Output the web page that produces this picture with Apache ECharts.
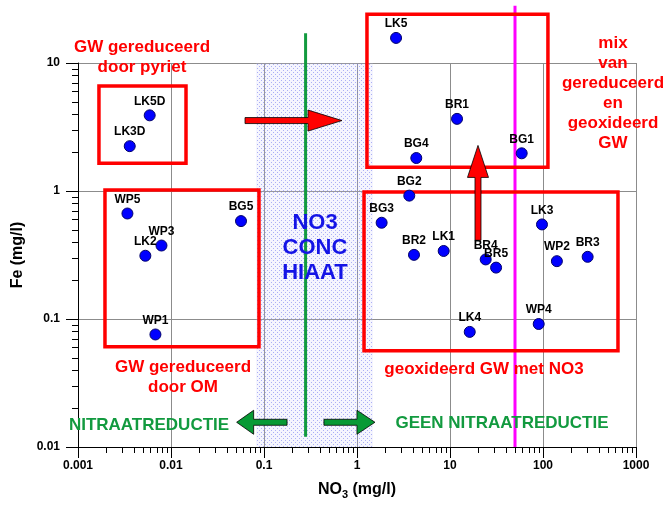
<!DOCTYPE html>
<html>
<head>
<meta charset="utf-8">
<script src="https://cdn.jsdelivr.net/npm/echarts@6/dist/echarts.min.js"></script>
<style>
  html, body { margin: 0; padding: 0; background: #ffffff; }
  #chart { width: 669px; height: 505px; background: #ffffff; }
</style>
</head>
<body>
<div id="chart"></div>
<script>
// Sample points: nitrate (x) against iron (y), both in mg/l
const sampleNames = ['LK5D', 'LK3D', 'LK5', 'BR1', 'BG4', 'BG1', 'BG2', 'WP5', 'WP3', 'LK2', 'WP1',
  'BG5', 'BG3', 'BR2', 'LK1', 'BR4', 'BR5', 'LK3', 'WP2', 'BR3', 'LK4', 'WP4'];
const no3Values = [0.0059, 0.0036, 2.63, 11.9, 4.34, 59, 3.65, 0.0034, 0.0079, 0.0053, 0.0068,
  0.0566, 1.84, 4.1, 8.55, 24.2, 31.3, 97.5, 141, 302, 16.3, 89.9];
const feValues = [3.9, 2.24, 15.7, 3.66, 1.81, 1.97, 0.92, 0.667, 0.375, 0.312, 0.0757,
  0.582, 0.565, 0.317, 0.34, 0.292, 0.252, 0.548, 0.283, 0.306, 0.0793, 0.0914];

// Axis tick labels
const xTickLabels = ['0.001', '0.01', '0.1', '1', '10', '100', '1000'];
const yTickLabels = ['0.01', '0.1', '1', '10'];

// Reference lines and the concentration gap band (mg/l)
const nitrateLimit = 50;
const reductionBoundary = 0.28;
const gapBand = [0.082, 1.49];

// Grouping boxes: [no3 min, fe min, no3 max, fe max]
const groupBoxes = [
  [0.00168, 1.65, 0.0145, 6.6],
  [0.00195, 0.0607, 0.0883, 1.02],
  [1.28, 1.53, 113, 24],
  [1.19, 0.0565, 640, 0.98]
];

const FONT = '"Liberation Sans", Arial, Helvetica, sans-serif';
const RED = '#ff0000';
const GREEN = '#129a3f';

const chart = echarts.init(document.getElementById('chart'));

// Polygon for an arrow from p0 (tail) to p1 (tip), pixel sizes for shaft and head
function arrowPoints(p0, p1, shaftW, headL, headW) {
  const dx = p1[0] - p0[0], dy = p1[1] - p0[1];
  const len = Math.sqrt(dx * dx + dy * dy);
  const ux = dx / len, uy = dy / len;
  const nx = -uy, ny = ux;
  const bx = p1[0] - ux * headL, by = p1[1] - uy * headL;
  const s = shaftW / 2, h = headW / 2;
  return [
    [p0[0] + nx * s, p0[1] + ny * s],
    [bx + nx * s, by + ny * s],
    [bx + nx * h, by + ny * h],
    p1,
    [bx - nx * h, by - ny * h],
    [bx - nx * s, by - ny * s],
    [p0[0] - nx * s, p0[1] - ny * s]
  ];
}

// 1 marks a decade (long tick), 2..9 the minor ticks inside a decade
const tickMult = [1, 2, 3, 4, 5, 6, 7, 8, 9];

function logLabel(labels, minExp) {
  return function (v) {
    const e = Math.round(Math.log10(v));
    return labels[e - minExp] !== undefined ? labels[e - minExp] : '';
  };
}

const option = {
  animation: false,
  grid: { left: 78, right: 33, top: 63, bottom: 55 },
  xAxis: {
    type: 'log', min: 0.001, max: 1000,
    name: '{a|NO}{s|3}{a| (mg/l)}',
    nameLocation: 'middle', nameGap: 33,
    nameTextStyle: {
      rich: {
        a: { fontFamily: FONT, fontWeight: 'bold', fontSize: 16, color: '#000', lineHeight: 20, verticalAlign: 'middle' },
        s: { fontFamily: FONT, fontWeight: 'bold', fontSize: 11, color: '#000', lineHeight: 20, verticalAlign: 'bottom' }
      }
    },
    axisLine: { show: true, lineStyle: { color: '#000', width: 1 } },
    axisTick: { show: false },
    axisLabel: { formatter: logLabel(xTickLabels, -3), fontFamily: FONT, fontWeight: 'bold', fontSize: 12, color: '#000', margin: 13 },
    splitLine: { show: true, lineStyle: { color: '#8c8c8c', width: 1 } }
  },
  yAxis: {
    type: 'log', min: 0.01, max: 10,
    name: 'Fe (mg/l)',
    nameLocation: 'middle', nameGap: 48, nameRotate: 90,
    nameTextStyle: { fontFamily: FONT, fontWeight: 'bold', fontSize: 16, color: '#000' },
    axisLine: { show: true, lineStyle: { color: '#000', width: 1 } },
    axisTick: { show: false },
    axisLabel: { formatter: logLabel(yTickLabels, -2), fontFamily: FONT, fontWeight: 'bold', fontSize: 12, color: '#000', margin: 18 },
    splitLine: { show: true, lineStyle: { color: '#8c8c8c', width: 1 } }
  },
  series: [
    {
      // concentration gap band: light tint plus a dot stipple, drawn as one path
      type: 'custom', z: 1, silent: true, clip: false,
      data: [0],
      renderItem: function (params, api) {
        const a = api.coord([gapBand[0], 10]);
        const b = api.coord([gapBand[1], 0.01]);
        const x0 = Math.round(a[0]), x1 = Math.round(b[0]);
        const y0 = Math.round(a[1]), y1 = Math.round(b[1]);
        let d = '';
        let row = 0;
        for (let y = y0 + 1; y < y1; y += 2, row++) {
          for (let x = x0 + 1 + (row % 2) * 2; x < x1; x += 4) {
            d += 'M' + x + ' ' + y + 'h1v1h-1z';
          }
        }
        return {
          type: 'group',
          children: [
            { type: 'rect', shape: { x: x0, y: y0, width: x1 - x0, height: y1 - y0 }, style: { fill: 'rgba(200,200,250,0.18)' } },
            { type: 'path', shape: { pathData: d }, style: { fill: 'rgba(110,116,236,0.55)' } }
          ]
        };
      }
    },
    {
      // axis ticks, decades long and 2..9 short, on their own layer
      type: 'custom', clip: false, z: 20, zlevel: 1, silent: true,
      data: [0],
      renderItem: function (params, api) {
        const children = [];
        for (let e = -3; e <= 3; e++) {
          tickMult.forEach(function (m) {
            if (e === 3 && m > 1) return;
            const p = api.coord([m * Math.pow(10, e), 0.01]);
            const len = m === 1 ? 11 : 6;
            const x = Math.round(p[0]) + 0.5;
            children.push({ type: 'line', shape: { x1: x, y1: p[1], x2: x, y2: p[1] + len }, style: { stroke: '#000', lineWidth: 1 } });
          });
        }
        for (let e = -2; e <= 1; e++) {
          tickMult.forEach(function (m) {
            if (e === 1 && m > 1) return;
            const p = api.coord([0.001, m * Math.pow(10, e)]);
            const len = m === 1 ? 12 : 6;
            const y = Math.round(p[1]) + 0.5;
            children.push({ type: 'line', shape: { x1: p[0] - len, y1: y, x2: p[0], y2: y }, style: { stroke: '#000', lineWidth: 1 } });
          });
        }
        return { type: 'group', children: children };
      }
    },
    {
      // reference lines, boxes and arrows
      type: 'custom', silent: true, clip: false, z: 3,
      data: [0],
      renderItem: function (params, api) {
        const children = [];
        const g0 = api.coord([reductionBoundary, 17.1]);
        const g1 = api.coord([reductionBoundary, 0.012]);
        children.push({ type: 'line', shape: { x1: g0[0], y1: g0[1], x2: g1[0], y2: g1[1] }, style: { stroke: '#129a3f', lineWidth: 3 } });
        const m0 = api.coord([nitrateLimit, 28]);
        const m1 = api.coord([nitrateLimit, 0.01]);
        children.push({ type: 'line', shape: { x1: m0[0], y1: m0[1], x2: m1[0], y2: m1[1] }, style: { stroke: '#ff00ff', lineWidth: 3 } });
        groupBoxes.forEach(function (bx) {
          const a = api.coord([bx[0], bx[3]]);
          const b = api.coord([bx[2], bx[1]]);
          children.push({ type: 'rect', shape: { x: a[0], y: a[1], width: b[0] - a[0], height: b[1] - a[1] }, style: { fill: null, stroke: RED, lineWidth: 3.5, lineJoin: 'miter' } });
        });
        // red arrows
        children.push({ type: 'polygon', shape: { points: arrowPoints(api.coord([0.0625, 3.55]), api.coord([0.69, 3.55]), 6, 34, 21) }, style: { fill: RED, stroke: '#000', lineWidth: 0.8 } });
        children.push({ type: 'polygon', shape: { points: arrowPoints(api.coord([20, 0.412]), api.coord([20, 2.27]), 6, 32, 21) }, style: { fill: RED, stroke: '#000', lineWidth: 0.8 } });
        // green arrows
        children.push({ type: 'polygon', shape: { points: arrowPoints(api.coord([0.177, 0.0156]), api.coord([0.0508, 0.0156]), 6, 17, 24) }, style: { fill: '#079a35', stroke: '#000', lineWidth: 0.8 } });
        children.push({ type: 'polygon', shape: { points: arrowPoints(api.coord([0.441, 0.0156]), api.coord([1.56, 0.0156]), 6, 18, 24) }, style: { fill: '#079a35', stroke: '#000', lineWidth: 0.8 } });
        return { type: 'group', children: children };
      }
    },
    {
      type: 'scatter', z: 5, clip: false,
      symbol: 'circle', symbolSize: 11,
      itemStyle: { color: '#0000ff', borderColor: '#00006a', borderWidth: 1, opacity: 1 },
      label: {
        show: true, position: 'top', distance: 2,
        formatter: function (p) { return p.name; },
        fontFamily: FONT, fontWeight: 'bold', fontSize: 12, color: '#000',
        textBorderWidth: 0, opacity: 1
      },
      emphasis: { disabled: true },
      data: sampleNames.map(function (n, i) { return { name: n, value: [no3Values[i], feValues[i]] }; })
    }
  ],
  graphic: [
    { type: 'text', x: 142, y: 57, z: 10, style: { text: 'GW gereduceerd\ndoor pyriet', fill: RED, font: 'bold 17px ' + FONT, align: 'center', verticalAlign: 'middle', lineHeight: 20 } },
    { type: 'text', x: 183, y: 377, z: 10, style: { text: 'GW gereduceerd\ndoor OM', fill: RED, font: 'bold 17px ' + FONT, align: 'center', verticalAlign: 'middle', lineHeight: 20 } },
    { type: 'text', x: 484, y: 369, z: 10, style: { text: 'geoxideerd GW met NO3', fill: RED, font: 'bold 17px ' + FONT, align: 'center', verticalAlign: 'middle' } },
    { type: 'text', x: 613, y: 93, z: 10, style: { text: 'mix\nvan\ngereduceerd\nen\ngeoxideerd\nGW', fill: RED, font: 'bold 17px ' + FONT, align: 'center', verticalAlign: 'middle', lineHeight: 20 } },
    { type: 'text', x: 315, y: 248, z: 10, style: { text: 'NO3\nCONC\nHIAAT', fill: '#1414e6', font: 'bold 22px ' + FONT, align: 'center', verticalAlign: 'middle', lineHeight: 25 } },
    { type: 'text', x: 149, y: 425, z: 10, style: { text: 'NITRAATREDUCTIE', fill: GREEN, font: 'bold 17px ' + FONT, align: 'center', verticalAlign: 'middle' } },
    { type: 'text', x: 502, y: 423, z: 10, style: { text: 'GEEN NITRAATREDUCTIE', fill: GREEN, font: 'bold 17px ' + FONT, align: 'center', verticalAlign: 'middle' } }
  ]
};

chart.setOption(option);
</script>
</body>
</html>
